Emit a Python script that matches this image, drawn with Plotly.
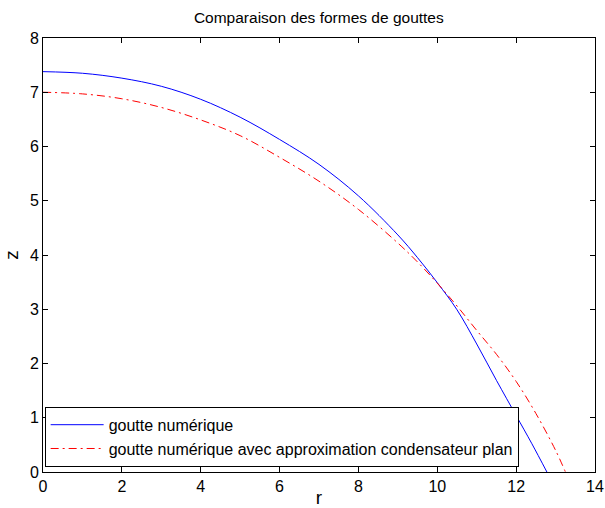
import plotly.graph_objects as go

# Data
r_num = [0, 1, 2, 3, 4, 5, 6, 7, 8, 9, 9.5, 10, 10.5, 11, 11.5, 12, 12.4, 12.78]
z_num = [7.38, 7.35, 7.26, 7.11, 6.87, 6.54, 6.13, 5.67, 5.09, 4.37, 3.95, 3.49, 2.99, 2.36, 1.69, 1.04, 0.52, 0.0]

r_cond = [0, 1, 2, 3, 4, 5, 6, 7, 8, 9, 9.5, 10, 10.5, 11, 11.5, 12, 12.5, 13.0, 13.25]
z_cond = [7.0, 6.97, 6.88, 6.72, 6.49, 6.20, 5.80, 5.36, 4.84, 4.22, 3.87, 3.48, 3.06, 2.61, 2.17, 1.67, 1.08, 0.40, 0.0]

x_ticks = [0, 2, 4, 6, 8, 10, 12, 14]
y_ticks = [0, 1, 2, 3, 4, 5, 6, 7, 8]

name_num = "goutte numérique"
name_cond = "goutte numérique avec approximation condensateur plan"
title = "Comparaison des formes de gouttes"

FONT = "Liberation Sans, Arial, Helvetica, sans-serif"

fig = go.Figure()
fig.add_trace(go.Scatter(x=r_num, y=z_num, mode="lines", name=name_num,
                         line=dict(color="#0000ff", width=1, shape="spline", smoothing=1)))
fig.add_trace(go.Scatter(x=r_cond, y=z_cond, mode="lines", name=name_cond,
                         line=dict(color="#ff0000", width=1, dash="8px,4px,2px,4px",
                                   shape="spline", smoothing=1)))

axis_common = dict(
    showgrid=False, zeroline=False, showline=True, linecolor="black", linewidth=1,
    mirror="ticks", ticks="inside", ticklen=5, tickcolor="black", tickwidth=1,
    tickfont=dict(family=FONT, size=16, color="black"), automargin=False,
)

fig.update_layout(
    width=605, height=508,
    margin=dict(l=42.5, r=10, t=37.5, b=35.5, pad=0),
    paper_bgcolor="white", plot_bgcolor="white",
    font=dict(family=FONT, size=16, color="black"),
    title=dict(text=title, x=0.527, xanchor="center", y=0.966, yanchor="middle",
               font=dict(family=FONT, size=15.5, color="black"), automargin=False),
    xaxis=dict(range=[0, 14], tickvals=x_ticks, title=dict(text="r", standoff=10), **axis_common),
    yaxis=dict(range=[0, 8], tickvals=y_ticks, title=dict(text="z", standoff=6), **axis_common),
    legend=dict(x=0.003, y=0.012, xanchor="left", yanchor="bottom",
                bgcolor="white", bordercolor="black", borderwidth=1,
                font=dict(family=FONT, size=16, color="black"),
                itemwidth=53, tracegroupgap=0),
    showlegend=True,
)

# remove the default page margin so the 605x508 figure fills the window exactly
page_js = ("document.documentElement.style.margin='0';"
           "document.body.style.margin='0';"
           "document.body.style.overflow='hidden';"
           "document.documentElement.style.overflow='hidden';")

fig.write_html("out.html", post_script=page_js, config={"displayModeBar": False})
